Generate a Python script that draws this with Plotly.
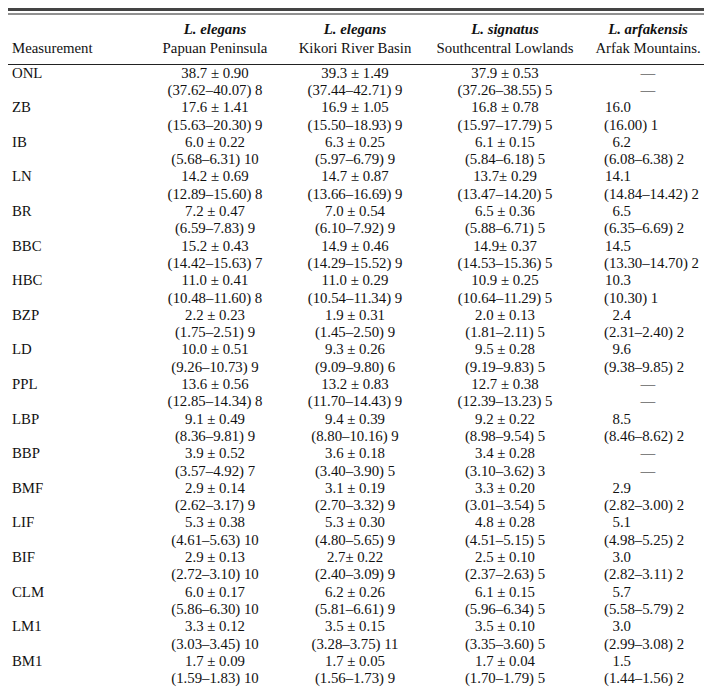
import plotly.graph_objects as go

measurements = ["ONL", "ZB", "IB", "LN", "BR", "BBC", "HBC", "BZP", "LD", "PPL",
                "LBP", "BBP", "BMF", "LIF", "BIF", "CLM", "LM1", "BM1"]

species = ["L. elegans", "L. elegans", "L. signatus", "L. arfakensis"]
localities = ["Papuan Peninsula", "Kikori River Basin", "Southcentral Lowlands", "Arfak Mountains."]

papuan_mean = ["38.7 ± 0.90", "17.6 ± 1.41", "6.0 ± 0.22", "14.2 ± 0.69", "7.2 ± 0.47",
               "15.2 ± 0.43", "11.0 ± 0.41", "2.2 ± 0.23", "10.0 ± 0.51", "13.6 ± 0.56",
               "9.1 ± 0.49", "3.9 ± 0.52", "2.9 ± 0.14", "5.3 ± 0.38", "2.9 ± 0.13",
               "6.0 ± 0.17", "3.3 ± 0.12", "1.7 ± 0.09"]
papuan_range = ["(37.62–40.07) 8", "(15.63–20.30) 9", "(5.68–6.31) 10", "(12.89–15.60) 8",
                "(6.59–7.83) 9", "(14.42–15.63) 7", "(10.48–11.60) 8", "(1.75–2.51) 9",
                "(9.26–10.73) 9", "(12.85–14.34) 8", "(8.36–9.81) 9", "(3.57–4.92) 7",
                "(2.62–3.17) 9", "(4.61–5.63) 10", "(2.72–3.10) 10", "(5.86–6.30) 10",
                "(3.03–3.45) 10", "(1.59–1.83) 10"]

kikori_mean = ["39.3 ± 1.49", "16.9 ± 1.05", "6.3 ± 0.25", "14.7 ± 0.87", "7.0 ± 0.54",
               "14.9 ± 0.46", "11.0 ± 0.29", "1.9 ± 0.31", "9.3 ± 0.26", "13.2 ± 0.83",
               "9.4 ± 0.39", "3.6 ± 0.18", "3.1 ± 0.19", "5.3 ± 0.30", "2.7± 0.22",
               "6.2 ± 0.26", "3.5 ± 0.15", "1.7 ± 0.05"]
kikori_range = ["(37.44–42.71) 9", "(15.50–18.93) 9", "(5.97–6.79) 9", "(13.66–16.69) 9",
                "(6.10–7.92) 9", "(14.29–15.52) 9", "(10.54–11.34) 9", "(1.45–2.50) 9",
                "(9.09–9.80) 6", "(11.70–14.43) 9", "(8.80–10.16) 9", "(3.40–3.90) 5",
                "(2.70–3.32) 9", "(4.80–5.65) 9", "(2.40–3.09) 9", "(5.81–6.61) 9",
                "(3.28–3.75) 11", "(1.56–1.73) 9"]

signatus_mean = ["37.9 ± 0.53", "16.8 ± 0.78", "6.1 ± 0.15", "13.7± 0.29", "6.5 ± 0.36",
                 "14.9± 0.37", "10.9 ± 0.25", "2.0 ± 0.13", "9.5 ± 0.28", "12.7 ± 0.38",
                 "9.2 ± 0.22", "3.4 ± 0.28", "3.3 ± 0.20", "4.8 ± 0.28", "2.5 ± 0.10",
                 "6.1 ± 0.15", "3.5 ± 0.10", "1.7 ± 0.04"]
signatus_range = ["(37.26–38.55) 5", "(15.97–17.79) 5", "(5.84–6.18) 5", "(13.47–14.20) 5",
                  "(5.88–6.71) 5", "(14.53–15.36) 5", "(10.64–11.29) 5", "(1.81–2.11) 5",
                  "(9.19–9.83) 5", "(12.39–13.23) 5", "(8.98–9.54) 5", "(3.10–3.62) 3",
                  "(3.01–3.54) 5", "(4.51–5.15) 5", "(2.37–2.63) 5", "(5.96–6.34) 5",
                  "(3.35–3.60) 5", "(1.70–1.79) 5"]

arfak_mean = ["—", "16.0", "6.2", "14.1", "6.5", "14.5", "10.3", "2.4", "9.6", "—",
              "8.5", "—", "2.9", "5.1", "3.0", "5.7", "3.0", "1.5"]
arfak_range = ["—", "(16.00) 1", "(6.08–6.38) 2", "(14.84–14.42) 2", "(6.35–6.69) 2",
               "(13.30–14.70) 2", "(10.30) 1", "(2.31–2.40) 2", "(9.38–9.85) 2", "—",
               "(8.46–8.62) 2", "—", "(2.82–3.00) 2", "(4.98–5.25) 2", "(2.82–3.11) 2",
               "(5.58–5.79) 2", "(2.99–3.08) 2", "(1.44–1.56) 2"]

# ---- layout constants ----
W, H = 712, 690
FONT = "Liberation Serif, Times New Roman, serif"
FS = 14.8
INK = "#111111"
first_row_y = 66.0
line_pitch = 17.3
species_y = 22.0
locality_y = 41.0
label_x = 4
col_centers = [207, 347, 497, 640]
arfak_left_x = 596
arfak_right_x = 623

fig = go.Figure()

def add_text(xs, ys, texts, pos):
    fig.add_trace(go.Scatter(
        x=xs, y=ys, text=texts, mode="text", textposition=pos,
        textfont=dict(family=FONT, size=FS, color=INK),
        hoverinfo="skip", showlegend=False, cliponaxis=False))

n = len(measurements)
y1 = [first_row_y + 2 * i * line_pitch for i in range(n)]
y2 = [y + line_pitch for y in y1]

# header
add_text([label_x], [locality_y], ["Measurement"], "middle right")
add_text(col_centers, [species_y] * 4, [f"<b><i>{s}</i></b>" for s in species], "middle center")
add_text(col_centers, [locality_y] * 4, localities, "middle center")

# row labels
add_text([label_x] * n, y1, measurements, "middle right")

# centred columns
for cx, m, r in zip(col_centers[:3], [papuan_mean, kikori_mean, signatus_mean],
                    [papuan_range, kikori_range, signatus_range]):
    add_text([cx] * n, y1, m, "middle center")
    add_text([cx] * n, y2, r, "middle center")

# arfakensis column: means right-aligned on the decimal, ranges left-aligned, dashes centred
cx4 = col_centers[3]
for ys, vals, xa, pos in [(y1, arfak_mean, arfak_right_x, "middle left"),
                          (y2, arfak_range, arfak_left_x, "middle right")]:
    dash_y = [y for y, v in zip(ys, vals) if v == "—"]
    val_y = [y for y, v in zip(ys, vals) if v != "—"]
    val_t = [v for v in vals if v != "—"]
    add_text([cx4] * len(dash_y), dash_y, ["—"] * len(dash_y), "middle center")
    add_text([xa] * len(val_y), val_y, val_t, pos)

shapes = [
    dict(type="line", x0=0, x1=W, y0=1.5, y1=1.5, line=dict(color="#444", width=3)),
    dict(type="line", x0=0, x1=W, y0=6, y1=6, line=dict(color="#222", width=1)),
    dict(type="line", x0=0, x1=W, y0=56.5, y1=56.5, line=dict(color="#222", width=1)),
    dict(type="line", x0=0, x1=W, y0=687, y1=687, line=dict(color="#222", width=2.5)),
]
for s in shapes:
    s.update(xref="x", yref="y", layer="above")

fig.update_layout(
    width=W, height=H, margin=dict(l=0, r=0, t=0, b=0),
    paper_bgcolor="white", plot_bgcolor="white",
    xaxis=dict(range=[0, W], visible=False, fixedrange=True),
    yaxis=dict(range=[H, 0], visible=False, fixedrange=True),
    shapes=shapes,
)

fig.write_html("out.html", config={"displayModeBar": False})
